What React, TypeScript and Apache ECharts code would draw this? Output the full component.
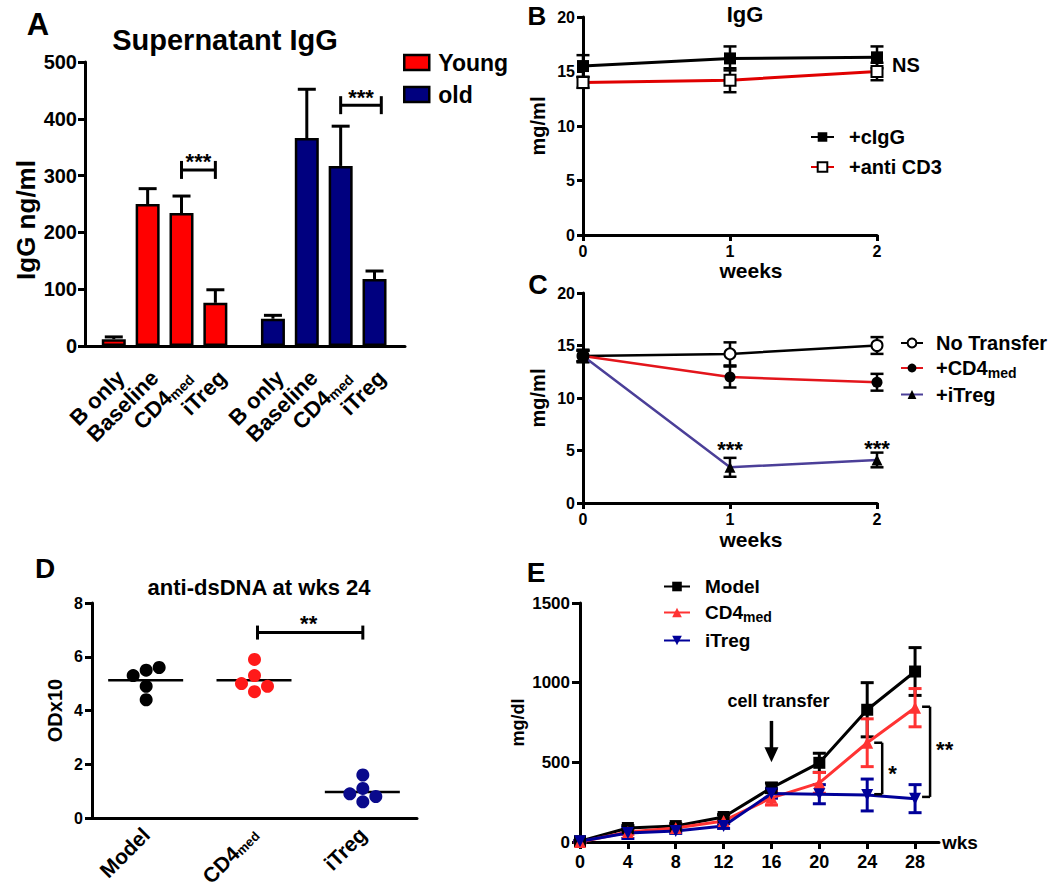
import React, { useEffect, useRef } from 'react';
import * as echarts from 'echarts';

const FONT = '"Liberation Sans", Arial, Helvetica, sans-serif';

// ---------- Panel A : Supernatant IgG ----------
const aCategories = ['B only', 'Baseline', 'CD4med', 'iTreg', 'B only', 'Baseline', 'CD4med', 'iTreg'];
const aSlots = [0, 1, 2, 3, 4.7, 5.7, 6.7, 7.7];
const aYoung = [12, 250, 234, 76];
const aYoungSem = [4, 27, 30, 23];
const aOld = [48, 366, 317, 118];
const aOldSem = [6, 86, 70, 14];
const aSig = [
  { from: 2, to: 3, y: 310, text: '***' },
  { from: 6.7, to: 7.9, y: 424, text: '***' },
];

// ---------- Panel B : IgG ----------
const bWeeks = [0, 1, 2];
const bCigg = [15.5, 16.2, 16.3];
const bCiggSem = [1.0, 1.1, 1.0];
const bAntiCD3 = [14.0, 14.2, 15.0];
const bAntiCD3Sem = [0.5, 1.1, 0.8];

// ---------- Panel C ----------
const cWeeks = [0, 1, 2];
const cNoTransfer = [14.0, 14.2, 15.0];
const cNoTransferSem = [0.5, 1.1, 0.8];
const cCD4med = [14.0, 12.0, 11.5];
const cCD4medSem = [0.5, 1.0, 0.8];
const cITreg = [14.0, 3.4, 4.1];
const cITregSem = [0.6, 0.9, 0.7];
const cSig = [[1, 5.7], [2, 5.8]];

// ---------- Panel D : anti-dsDNA at wks 24 ----------
const dGroups = ['Model', 'CD4med', 'iTreg'];
const dModel = [5.3, 5.5, 5.6, 4.9, 4.4];
const dModelSide = [-1, 0, 1, 0, 0];
const dCD4med = [5.9, 5.3, 5.0, 4.9, 4.7];
const dCD4medSide = [0, 0, -1, 1, 0];
const dITreg = [1.6, 1.1, 0.9, 0.8, 0.6];
const dITregSide = [0, 0, -1, 1, 0];
const dMeans = [5.13, 5.13, 0.97];
const dSig = { from: 1, to: 2, y: 6.9, text: '**' };

// ---------- Panel E ----------
const eWeeks = [0, 4, 8, 12, 16, 20, 24, 28];
const eModel = [5, 88, 100, 157, 340, 497, 830, 1070];
const eModelSem = [5, 15, 15, 15, 30, 60, 170, 150];
const eCD4med = [0, 63, 88, 132, 277, 371, 623, 843];
const eCD4medSem = [5, 15, 15, 15, 45, 65, 150, 120];
const eITreg = [5, 57, 69, 100, 305, 300, 295, 272];
const eITregSem = [5, 35, 15, 15, 30, 60, 100, 88];
const eSig = [
  { week: 24, hi: 623, lo: 300, labelAt: 430, text: '*' },
  { week: 28, hi: 849, lo: 283, labelAt: 580, text: '**' },
];
const eTransfer = { week: 16, from: 760, to: 500, text: 'cell transfer' };

const BLACK = '#000';
const subStyle = { fontSize: 14, fontWeight: 'bold', fontFamily: FONT, color: BLACK, padding: [9, 0, 0, 0] };
const withSub = (s: string) => s.replace('med', '{sub|med}');

const axisLineS = { show: true, onZero: false, lineStyle: { color: BLACK, width: 3 } };
const tickS = (len: number) => ({ show: true, inside: false, length: len, lineStyle: { color: BLACK, width: 3 } });
const labelS = (size: number, margin: number) => ({
  color: BLACK, fontFamily: FONT, fontWeight: 'bold', fontSize: size, margin,
  formatter: (v: any) => String(v),
});
const nameS = (size: number) => ({ color: BLACK, fontFamily: FONT, fontWeight: 'bold', fontSize: size });

function errBars(ax: number, xs: number[], ys: number[], errs: number[], color: string, cap: number, lw: number, upOnly = false) {
  return {
    type: 'custom',
    xAxisIndex: ax,
    yAxisIndex: ax,
    z: 3,
    silent: true,
    data: xs.map((x, i) => [x, upOnly ? ys[i] : ys[i] - errs[i], ys[i] + errs[i]]),
    renderItem: (_p: any, api: any) => {
      const lo = api.coord([api.value(0), api.value(1)]);
      const hi = api.coord([api.value(0), api.value(2)]);
      const st = { stroke: color, lineWidth: lw };
      const children: any[] = [
        { type: 'line', shape: { x1: lo[0], y1: lo[1], x2: hi[0], y2: hi[1] }, style: st },
        { type: 'line', shape: { x1: hi[0] - cap, y1: hi[1], x2: hi[0] + cap, y2: hi[1] }, style: st },
      ];
      if (!upOnly) children.push({ type: 'line', shape: { x1: lo[0] - cap, y1: lo[1], x2: lo[0] + cap, y2: lo[1] }, style: st });
      return { type: 'group', children };
    },
  };
}

function txt(x: number, y: number, text: string, size: number, align = 'center', vAlign = 'middle') {
  return {
    type: 'text',
    x,
    y,
    style: { text, font: `bold ${size}px ${FONT}`, fill: BLACK, align, verticalAlign: vAlign, textAlign: align, textVerticalAlign: vAlign },
  };
}

function buildOption(): any {
  const grids = [
    { left: 85, top: 62, width: 320, height: 284 },
    { left: 583, top: 17, width: 294, height: 218 },
    { left: 583, top: 293, width: 294, height: 210 },
    { left: 92, top: 603, width: 325, height: 215 },
    { left: 580, top: 603, width: 359, height: 239 },
  ].map((g) => ({ ...g, containLabel: false, outerBoundsMode: 'none' }));

  const xAxis: any[] = [
    {
      type: 'value', gridIndex: 0, min: -0.85, max: 8.6,
      axisLine: axisLineS, axisTick: { show: false }, splitLine: { show: false },
      axisLabel: {
        ...labelS(22, 21), rotate: 45, customValues: aSlots, padding: [20, 0, 0, 0],
        formatter: (v: number) => {
          const i = aSlots.findIndex((s) => Math.abs(s - v) < 1e-6);
          return i < 0 ? '' : withSub(aCategories[i]);
        },
        rich: { sub: subStyle },
      },
    },
    {
      type: 'value', gridIndex: 1, min: 0, max: 2, interval: 1,
      axisLine: axisLineS, axisTick: tickS(6), splitLine: { show: false }, axisLabel: labelS(16, 8),
      name: 'weeks', nameLocation: 'middle', nameGap: 24, nameTextStyle: { ...nameS(21), padding: [0, 0, 0, 42] },
    },
    {
      type: 'value', gridIndex: 2, min: 0, max: 2, interval: 1,
      axisLine: axisLineS, axisTick: tickS(6), splitLine: { show: false }, axisLabel: labelS(16, 8),
      name: 'weeks', nameLocation: 'middle', nameGap: 26, nameTextStyle: { ...nameS(21), padding: [0, 0, 0, 42] },
    },
    {
      type: 'category', gridIndex: 3, data: dGroups, boundaryGap: true,
      axisLine: axisLineS, axisTick: { show: false }, splitLine: { show: false },
      axisLabel: { ...labelS(21, 13), rotate: 45, interval: 0, formatter: (v: string) => withSub(v), rich: { sub: { ...subStyle, fontSize: 13, padding: [8, 0, 0, 0] } } },
    },
    {
      type: 'value', gridIndex: 4, min: 0, max: 30, interval: 4,
      axisLine: axisLineS, axisTick: { ...tickS(7), customValues: eWeeks }, splitLine: { show: false },
      axisLabel: { ...labelS(18, 11), customValues: eWeeks },
      name: 'wks', nameLocation: 'end', nameGap: 3, nameTextStyle: { ...nameS(19), align: 'left', padding: [32, 0, 0, 0] },
    },
  ];

  const yAxis: any[] = [
    {
      type: 'value', gridIndex: 0, min: 0, max: 500, interval: 100,
      axisLine: axisLineS, axisTick: tickS(7), splitLine: { show: false }, axisLabel: labelS(20, 8),
      name: 'IgG ng/ml', nameLocation: 'middle', nameRotate: 90, nameGap: 46, nameTextStyle: { ...nameS(26), padding: [0, 32, 0, 0] },
    },
    {
      type: 'value', gridIndex: 1, min: 0, max: 20, interval: 5,
      axisLine: axisLineS, axisTick: tickS(6), splitLine: { show: false }, axisLabel: labelS(16, 8),
      name: 'mg/ml', nameLocation: 'middle', nameRotate: 90, nameGap: 35, nameTextStyle: nameS(20),
    },
    {
      type: 'value', gridIndex: 2, min: 0, max: 20, interval: 5,
      axisLine: axisLineS, axisTick: tickS(6), splitLine: { show: false }, axisLabel: labelS(16, 8),
      name: 'mg/ml', nameLocation: 'middle', nameRotate: 90, nameGap: 35, nameTextStyle: nameS(20),
    },
    {
      type: 'value', gridIndex: 3, min: 0, max: 8, interval: 2,
      axisLine: axisLineS, axisTick: tickS(7), splitLine: { show: false }, axisLabel: labelS(16, 9),
      name: 'ODx10', nameLocation: 'middle', nameRotate: 90, nameGap: 27, nameTextStyle: nameS(20),
    },
    {
      type: 'value', gridIndex: 4, min: 0, max: 1500, interval: 500,
      axisLine: axisLineS, axisTick: tickS(8), splitLine: { show: false }, axisLabel: labelS(17, 10),
      name: 'mg/dl', nameLocation: 'middle', nameRotate: 90, nameGap: 53, nameTextStyle: nameS(18),
    },
  ];

  const lineSeries = (ax: number, name: string, xs: number[], ys: number[], color: string, symbol: string, size: number, item: any, extra: any = {}) => ({
    type: 'line', name, xAxisIndex: ax, yAxisIndex: ax, z: 4, silent: true,
    data: xs.map((x, i) => [x, ys[i]]),
    symbol, symbolSize: size, showSymbol: true,
    lineStyle: { color, width: 3 }, itemStyle: { opacity: 1, ...item },
    emphasis: { disabled: true },
    ...extra,
  });

  const series: any[] = [
    // ---- A ----
    {
      type: 'bar', name: 'Young', xAxisIndex: 0, yAxisIndex: 0, barWidth: 24, barGap: '-100%', silent: true,
      data: aYoung.map((v, i) => [aSlots[i], v]),
      itemStyle: { color: '#ff0000', borderColor: BLACK, borderWidth: 2.5 },
    },
    {
      type: 'bar', name: 'old', xAxisIndex: 0, yAxisIndex: 0, barWidth: 24, barGap: '-100%', silent: true,
      data: aOld.map((v, i) => [aSlots[i + 4], v]),
      itemStyle: { color: '#00007f', borderColor: BLACK, borderWidth: 2.5 },
    },
    errBars(0, aSlots.slice(0, 4), aYoung, aYoungSem, BLACK, 9, 3, true),
    errBars(0, aSlots.slice(4), aOld, aOldSem, BLACK, 9, 3, true),
    {
      type: 'custom', xAxisIndex: 0, yAxisIndex: 0, z: 5, silent: true,
      data: aSig.map((s) => [s.from, s.to, s.y]),
      renderItem: (p: any, api: any) => {
        const a = api.coord([api.value(0), api.value(2)]);
        const b = api.coord([api.value(1), api.value(2)]);
        const st = { stroke: BLACK, lineWidth: 3 };
        return {
          type: 'group',
          children: [
            { type: 'line', shape: { x1: a[0], y1: a[1], x2: b[0], y2: b[1] }, style: st },
            { type: 'line', shape: { x1: a[0], y1: a[1] - 9, x2: a[0], y2: a[1] + 9 }, style: st },
            { type: 'line', shape: { x1: b[0], y1: b[1] - 9, x2: b[0], y2: b[1] + 9 }, style: st },
            txt((a[0] + b[0]) / 2, a[1] + 3, aSig[p.dataIndex].text, 22, 'center', 'bottom'),
          ],
        };
      },
    },
    // ---- B ----
    errBars(1, bWeeks, bCigg, bCiggSem, BLACK, 6.5, 2.5),
    errBars(1, bWeeks, bAntiCD3, bAntiCD3Sem, BLACK, 6.5, 2.5),
    lineSeries(1, '+cIgG', bWeeks, bCigg, BLACK, 'rect', 12, { color: BLACK }),
    lineSeries(1, '+anti CD3', bWeeks, bAntiCD3, '#e00000', 'rect', 11, { color: '#fff', borderColor: BLACK, borderWidth: 2 }),
    // ---- C ----
    errBars(2, cWeeks, cNoTransfer, cNoTransferSem, BLACK, 6.5, 2.5),
    errBars(2, cWeeks, cCD4med, cCD4medSem, BLACK, 6.5, 2.5),
    errBars(2, cWeeks, cITreg, cITregSem, BLACK, 6.5, 2.5),
    lineSeries(2, 'No Transfer', cWeeks, cNoTransfer, BLACK, 'circle', 11, { color: '#fff', borderColor: BLACK, borderWidth: 2 }, { lineStyle: { color: BLACK, width: 2.5 } }),
    lineSeries(2, '+CD4med', cWeeks, cCD4med, '#e3151b', 'circle', 11, { color: BLACK }, { lineStyle: { color: '#e3151b', width: 2.5 } }),
    lineSeries(2, '+iTreg', cWeeks, cITreg, '#4b3f98', 'triangle', 11, { color: BLACK }, { lineStyle: { color: '#4b3f98', width: 2.5 } }),
    {
      type: 'custom', xAxisIndex: 2, yAxisIndex: 2, z: 5, silent: true,
      data: cSig,
      renderItem: (_p: any, api: any) => {
        const c = api.coord([api.value(0), api.value(1)]);
        return txt(c[0], c[1] + 6, '***', 22, 'center', 'middle');
      },
    },
    // ---- D ----
    ...[
      { name: 'dsDNA Model', vals: dModel, side: dModelSide, color: '#000000', idx: 0 },
      { name: 'dsDNA CD4med', vals: dCD4med, side: dCD4medSide, color: '#ff1a1a', idx: 1 },
      { name: 'dsDNA iTreg', vals: dITreg, side: dITregSide, color: '#0a0a8c', idx: 2 },
    ].map((g) => ({
      type: 'scatter', name: g.name, xAxisIndex: 3, yAxisIndex: 3, silent: true, z: 4,
      symbol: 'circle', symbolSize: 13, itemStyle: { color: g.color, opacity: 1 },
      data: g.vals.map((v, i) => ({ value: [g.idx, v], symbolOffset: [g.side[i] * 13, 0] })),
    })),
    {
      type: 'custom', xAxisIndex: 3, yAxisIndex: 3, z: 3, silent: true,
      data: dMeans.map((m, i) => [i, m]),
      renderItem: (_p: any, api: any) => {
        const c = api.coord([api.value(0), api.value(1)]);
        return { type: 'line', shape: { x1: c[0] - 38, y1: c[1], x2: c[0] + 37, y2: c[1] }, style: { stroke: BLACK, lineWidth: 2.5 } };
      },
    },
    {
      type: 'custom', xAxisIndex: 3, yAxisIndex: 3, z: 5, silent: true,
      data: [[dSig.from, dSig.to, dSig.y]],
      renderItem: (_p: any, api: any) => {
        const a = api.coord([api.value(0), api.value(2)]);
        const b = api.coord([api.value(1), api.value(2)]);
        const st = { stroke: BLACK, lineWidth: 3 };
        return {
          type: 'group',
          children: [
            { type: 'line', shape: { x1: a[0] + 3, y1: a[1], x2: b[0], y2: b[1] }, style: st },
            { type: 'line', shape: { x1: a[0] + 3, y1: a[1] - 7, x2: a[0] + 3, y2: a[1] + 7 }, style: st },
            { type: 'line', shape: { x1: b[0], y1: b[1] - 7, x2: b[0], y2: b[1] + 7 }, style: st },
            txt((a[0] + b[0]) / 2, a[1] + 2, dSig.text, 22, 'center', 'bottom'),
          ],
        };
      },
    },
    // ---- E ----
    errBars(4, eWeeks, eModel, eModelSem, BLACK, 6.5, 3),
    errBars(4, eWeeks, eCD4med, eCD4medSem, '#ff3333', 6.5, 3),
    errBars(4, eWeeks, eITreg, eITregSem, '#000099', 6.5, 3),
    lineSeries(4, 'Model', eWeeks, eModel, BLACK, 'rect', 12, { color: BLACK }),
    lineSeries(4, 'CD4med', eWeeks, eCD4med, '#ff3333', 'triangle', 12, { color: '#ff3333' }),
    lineSeries(4, 'iTreg', eWeeks, eITreg, '#000099', 'triangle', 12, { color: '#000099' }, { symbolRotate: 180 }),
    {
      type: 'custom', xAxisIndex: 4, yAxisIndex: 4, z: 5, silent: true,
      data: eSig.map((s) => [s.week, s.hi, s.lo, s.labelAt]),
      renderItem: (p: any, api: any) => {
        const a = api.coord([api.value(0), api.value(1)]);
        const b = api.coord([api.value(0), api.value(2)]);
        const t = api.coord([api.value(0), api.value(3)]);
        const st = { stroke: BLACK, lineWidth: 2.5 };
        const xv = a[0] + 15;
        const xt = a[0] + 7;
        return {
          type: 'group',
          children: [
            { type: 'line', shape: { x1: xv, y1: a[1], x2: xv, y2: b[1] }, style: st },
            { type: 'line', shape: { x1: xt, y1: a[1], x2: xv, y2: a[1] }, style: st },
            { type: 'line', shape: { x1: xt, y1: b[1], x2: xv, y2: b[1] }, style: st },
            txt(xv + 6, t[1], eSig[p.dataIndex].text, 22, 'left', 'middle'),
          ],
        };
      },
    },
    {
      type: 'custom', xAxisIndex: 4, yAxisIndex: 4, z: 5, silent: true,
      data: [[eTransfer.week, eTransfer.from, eTransfer.to]],
      renderItem: (_p: any, api: any) => {
        const a = api.coord([api.value(0), api.value(1)]);
        const b = api.coord([api.value(0), api.value(2)]);
        return {
          type: 'group',
          children: [
            { type: 'line', shape: { x1: a[0], y1: a[1], x2: b[0], y2: b[1] - 12 }, style: { stroke: BLACK, lineWidth: 3.5 } },
            { type: 'polygon', shape: { points: [[b[0] - 7, b[1] - 15], [b[0] + 7, b[1] - 15], [b[0], b[1]]] }, style: { fill: BLACK } },
            txt(a[0] + 7, a[1] - 20, eTransfer.text, 18, 'center', 'middle'),
          ],
        };
      },
    },
  ];

  const legendText = (size: number, padLeft: number) => ({
    color: BLACK, fontFamily: FONT, fontWeight: 'bold', fontSize: size, padding: [0, 0, 0, padLeft],
    rich: { sub: subStyle },
  });

  const legend: any[] = [
    {
      data: [
        { name: 'Young', icon: 'rect', itemStyle: { color: '#ff0000', borderColor: BLACK, borderWidth: 2.5 } },
        { name: 'old', icon: 'rect', itemStyle: { color: '#00007f', borderColor: BLACK, borderWidth: 2.5 } },
      ],
      orient: 'vertical', left: 403, top: 51, padding: 0, itemWidth: 25, itemHeight: 15, itemGap: 9,
      selectedMode: false, textStyle: legendText(23, 4),
    },
    {
      data: ['+cIgG', '+anti CD3'], orient: 'vertical', left: 810, top: 127, padding: 0,
      itemWidth: 23, itemHeight: 12, itemGap: 10, selectedMode: false, textStyle: legendText(20, 10),
    },
    {
      data: ['No Transfer', '+CD4med', '+iTreg'], orient: 'vertical', left: 900, top: 333, padding: 0,
      itemWidth: 22, itemHeight: 11, itemGap: 5, selectedMode: false, textStyle: legendText(20, 8),
      formatter: (n: string) => withSub(n),
    },
    {
      data: ['Model', 'CD4med', 'iTreg'], orient: 'vertical', left: 663, top: 577, padding: 0,
      itemWidth: 26, itemHeight: 12, itemGap: 7, selectedMode: false, textStyle: legendText(19, 10),
      formatter: (n: string) => withSub(n),
    },
  ];

  const graphic: any[] = [
    txt(38, 24, 'A', 31),
    txt(225, 40, 'Supernatant IgG', 29),
    txt(537, 16, 'B', 26),
    txt(745, 14, 'IgG', 22),
    txt(906, 65, 'NS', 20),
    txt(538, 285, 'C', 27),
    txt(45, 568, 'D', 28),
    txt(259, 587, 'anti-dsDNA at wks 24', 22),
    txt(536, 572, 'E', 28),
  ];

  return {
    animation: false,
    backgroundColor: '#fff',
    textStyle: { fontFamily: FONT },
    grid: grids,
    xAxis,
    yAxis,
    legend,
    series,
    graphic,
  };
}

export default function App() {
  const ref = useRef<HTMLDivElement>(null);
  useEffect(() => {
    document.body.style.margin = '0';
    const chart = echarts.init(ref.current as HTMLDivElement, null, { renderer: 'svg' });
    chart.setOption(buildOption());
    return () => chart.dispose();
  }, []);
  return <div ref={ref} style={{ width: 1050, height: 889, background: '#fff' }} />;
}
